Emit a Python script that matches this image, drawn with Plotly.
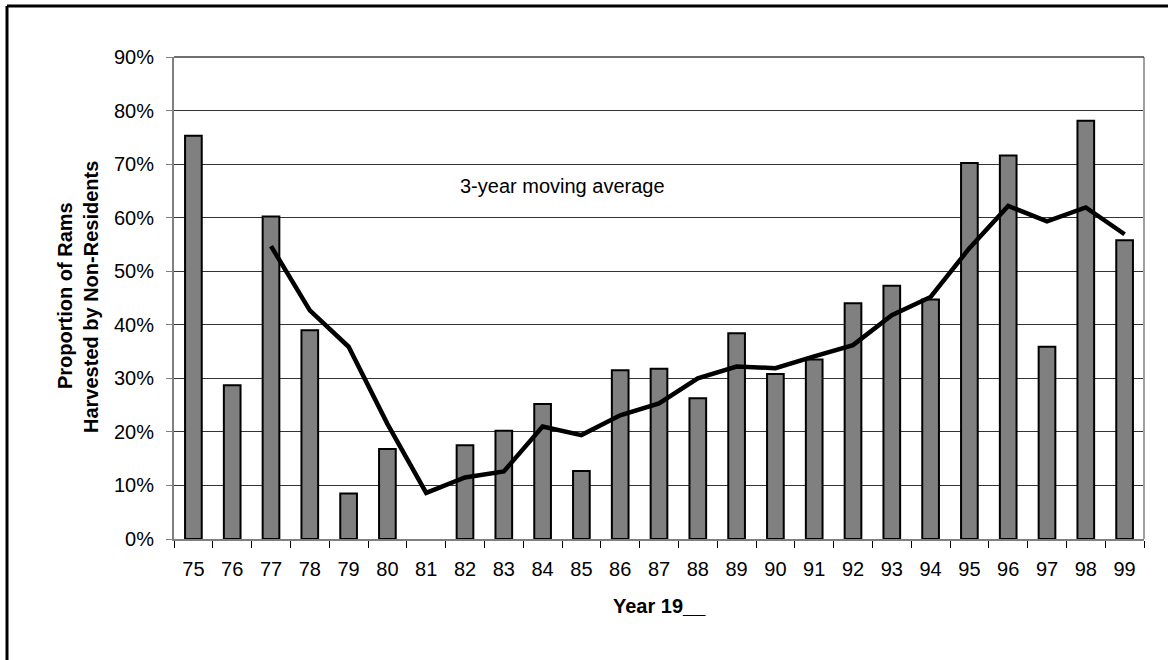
import plotly.graph_objects as go

years = ['75', '76', '77', '78', '79', '80', '81', '82', '83', '84', '85', '86', '87',
         '88', '89', '90', '91', '92', '93', '94', '95', '96', '97', '98', '99']
proportion = [75.3, 28.7, 60.2, 39.0, 8.5, 16.8, None, 17.5, 20.2, 25.2, 12.7, 31.5, 31.8,
              26.3, 38.4, 30.8, 33.5, 44.0, 47.3, 44.7, 70.2, 71.6, 35.9, 78.1, 55.8]

ma_years = ['77', '78', '79', '80', '81', '82', '83', '84', '85', '86', '87', '88',
            '89', '90', '91', '92', '93', '94', '95', '96', '97', '98', '99']
moving_avg = [54.7, 42.7, 35.9, 21.5, 8.6, 11.5, 12.6, 21.0, 19.4, 23.1, 25.3, 30.0,
              32.2, 31.9, 34.1, 36.2, 41.8, 45.2, 54.3, 62.2, 59.3, 61.9, 56.9]

y_ticks = [0, 10, 20, 30, 40, 50, 60, 70, 80, 90]

FONT = "Liberation Sans, Arial, sans-serif"

fig = go.Figure()
fig.add_trace(go.Bar(
    x=years, y=proportion,
    marker=dict(color="#808080", line=dict(color="#000000", width=2)),
    showlegend=False, hoverinfo="x+y",
))
fig.add_trace(go.Scatter(
    x=ma_years, y=moving_avg, mode="lines",
    line=dict(color="#000000", width=4.5),
    showlegend=False,
))

L, R, T, B = 174, 24, 57, 121
W, H = 1168, 660
pw = W - L - R
ph = H - T - B

def px2x(px):
    return (px - L) / pw

def py2y(py):
    return (H - B - py) / ph

fig.update_layout(
    width=W, height=H,
    margin=dict(l=L, r=R, t=T, b=B, pad=0),
    paper_bgcolor="white", plot_bgcolor="white",
    bargap=0.57,
    font=dict(family=FONT, size=20, color="#000000"),
    xaxis=dict(
        type="category", categoryorder="array", categoryarray=years,
        tickson="boundaries", ticks="outside", ticklen=7, tickcolor="#000000", tickwidth=1,
        showline=True, linecolor="#808080", linewidth=2,
        showgrid=False, zeroline=False,
        tickfont=dict(family=FONT, size=20, color="#000000"),
        ticklabelstandoff=11,
        range=[-0.5, len(years) - 0.5],
    ),
    yaxis=dict(
        range=[0, 90], tickvals=y_ticks, ticktext=[f"{v}%" for v in y_ticks],
        ticks="outside", ticklen=6, tickcolor="#808080", tickwidth=1,
        showline=True, linecolor="#808080", linewidth=2,
        showgrid=True, gridcolor="#333333", gridwidth=1,
        zeroline=False,
        tickfont=dict(family=FONT, size=20, color="#000000"),
        ticklabelstandoff=8,
    ),
    shapes=[
        dict(type="line", xref="paper", yref="paper", x0=1, x1=1, y0=0, y1=1,
             line=dict(color="#a0a0a0", width=2)),
        dict(type="line", xref="paper", yref="paper", x0=0, x1=1, y0=1, y1=1,
             line=dict(color="#404040", width=1.5)),
        dict(type="line", xref="paper", yref="paper",
             x0=px2x(7), x1=px2x(1170), y0=py2y(6), y1=py2y(6),
             line=dict(color="#000000", width=3)),
        dict(type="line", xref="paper", yref="paper",
             x0=px2x(7), x1=px2x(7), y0=py2y(6), y1=py2y(662),
             line=dict(color="#000000", width=3)),
    ],
    annotations=[
        dict(text="3-year moving average", xref="paper", yref="paper",
             x=px2x(458), y=py2y(186), xanchor="left", yanchor="middle",
             showarrow=False, font=dict(family=FONT, size=20, color="#000000")),
        dict(text="<b>Year 19__</b>", xref="paper", yref="paper",
             x=px2x(659), y=py2y(606), xanchor="center", yanchor="middle",
             showarrow=False, font=dict(family=FONT, size=20, color="#000000")),
        dict(text="<b>Proportion of Rams</b>", xref="paper", yref="paper",
             x=px2x(65), y=py2y(296), xanchor="center", yanchor="middle",
             textangle=-90, showarrow=False,
             font=dict(family=FONT, size=20, color="#000000")),
        dict(text="<b>Harvested by Non-Residents</b>", xref="paper", yref="paper",
             x=px2x(91), y=py2y(297), xanchor="center", yanchor="middle",
             textangle=-90, showarrow=False,
             font=dict(family=FONT, size=20, color="#000000")),
    ],
)

fig.write_html(
    "out.html",
    config={"displayModeBar": False},
    post_script="document.body.style.margin='0px';document.body.style.overflow='hidden';",
)
